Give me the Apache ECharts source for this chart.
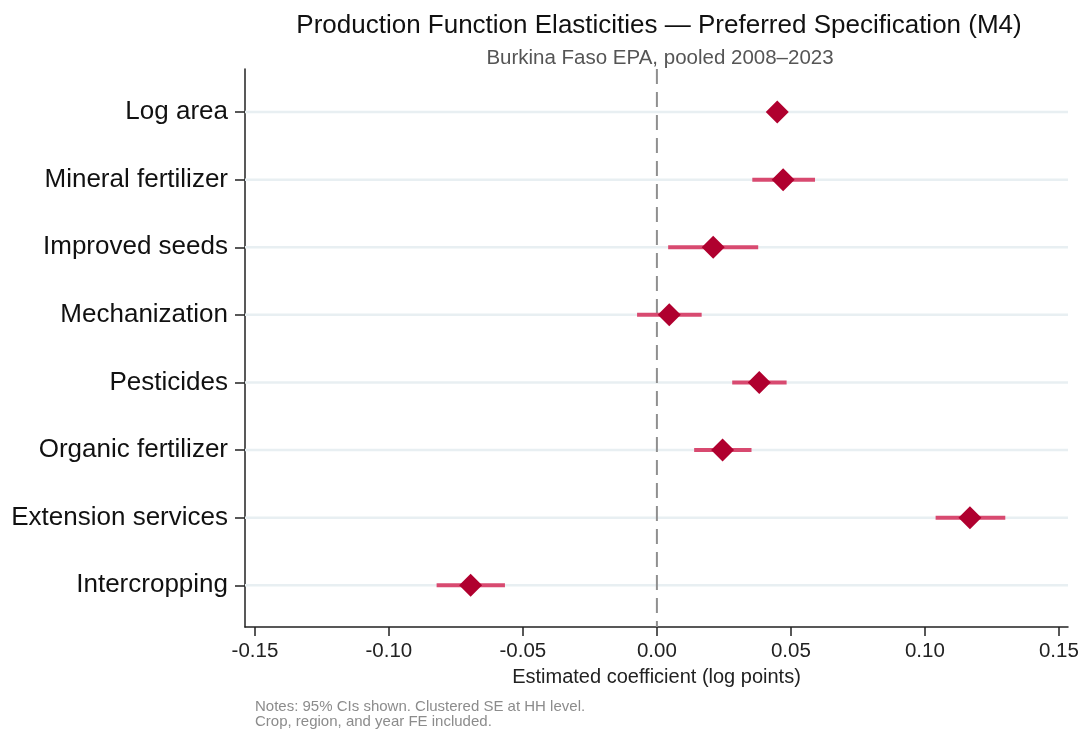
<!DOCTYPE html>
<html>
<head>
<meta charset="utf-8">
<script src="https://cdn.jsdelivr.net/npm/echarts@6/dist/echarts.min.js"></script>
<style>
  html, body { margin: 0; padding: 0; background: #fff; }
  #chart { width: 1084px; height: 729px; }
</style>
</head>
<body>
<div id="chart"></div>
<script>
// coefficient plot data (top row first)
const categories = ["Log area", "Mineral fertilizer", "Improved seeds", "Mechanization",
  "Pesticides", "Organic fertilizer", "Extension services", "Intercropping"];
const estimates = [0.0449, 0.0471, 0.0210, 0.0046, 0.0382, 0.0245, 0.1168, -0.0695];
const ciLow = [0.0425, 0.0356, 0.0042, -0.0074, 0.0281, 0.0139, 0.1040, -0.0822];
const ciHigh = [0.0473, 0.0590, 0.0378, 0.0167, 0.0484, 0.0353, 0.1300, -0.0567];
const xTicks = [-0.15, -0.10, -0.05, 0.00, 0.05, 0.10, 0.15];
const refValue = 0; // dashed reference line

const FONT = "'Liberation Sans', Arial, sans-serif";
const n = categories.length;
// row positions on the value y axis, top row = n
const rowPos = categories.map((c, i) => n - i);

var chart = echarts.init(document.getElementById("chart"));
var option = {
  backgroundColor: "#fff",
  textStyle: { fontFamily: FONT },
  title: [
    {
      text: "Production Function Elasticities \u2014 Preferred Specification (M4)",
      left: 654,
      top: 8,
      textAlign: "center",
      textStyle: { fontFamily: FONT, fontSize: 26, fontWeight: "normal", color: "#111" }
    },
    {
      text: "Burkina Faso EPA, pooled 2008\u20132023",
      left: 655,
      top: 43,
      textAlign: "center",
      textStyle: { fontFamily: FONT, fontSize: 20.5, fontWeight: "normal", color: "#555" }
    },
    {
      text: "Notes: 95% CIs shown. Clustered SE at HH level.\nCrop, region, and year FE included.",
      left: 250,
      top: 694,
      textStyle: { fontFamily: FONT, fontSize: 15, fontWeight: "normal", color: "#8c8c8c", lineHeight: 15.5 }
    }
  ],
  grid: {
    left: 245,
    right: 16,
    top: 69,
    bottom: 102,
    containLabel: false
  },
  xAxis: {
    type: "value",
    min: -0.1537,
    max: 0.1534,
    name: "Estimated coefficient (log points)",
    nameLocation: "middle",
    nameGap: 40,
    nameTextStyle: { fontFamily: FONT, fontSize: 20, color: "#222" },
    axisLine: { show: true, onZero: false, lineStyle: { color: "#222", width: 1.5 } },
    axisTick: { show: true, length: 9, customValues: xTicks, lineStyle: { color: "#222", width: 1.5 } },
    axisLabel: {
      customValues: xTicks,
      margin: 14,
      fontFamily: FONT,
      fontSize: 20.5,
      color: "#222",
      formatter: function(v) {
        return v.toFixed(2);
      }
    },
    splitLine: { show: false }
  },
  yAxis: {
    type: "value",
    min: 0.383,
    max: 8.637,
    axisLine: { show: true, onZero: false, lineStyle: { color: "#222", width: 1.5 } },
    axisTick: { show: true, length: 10, customValues: rowPos, lineStyle: { color: "#222", width: 1.5 } },
    axisLabel: {
      customValues: rowPos,
      margin: 17,
      fontFamily: FONT,
      fontSize: 26,
      color: "#111",
      formatter: function(v) {
        return categories[n - Math.round(v)];
      }
    },
    splitLine: { show: false }
  },
  series: [
    {
      // row guide line, zero reference line and confidence interval
      type: "custom",
      z: 2,
      data: categories.map((c, i) => [ciLow[i], ciHigh[i], rowPos[i]]),
      encode: { x: [0, 1], y: 2 },
      renderItem: function(params, api) {
        var cs = params.coordSys;
        var p1 = api.coord([api.value(0), api.value(2)]);
        var p2 = api.coord([api.value(1), api.value(2)]);
        var children = [
          {
            type: "line",
            z2: 1,
            shape: { x1: cs.x, y1: p1[1], x2: cs.x + cs.width, y2: p1[1] },
            style: { stroke: "#e8eff2", lineWidth: 2.5 }
          }
        ];
        if (params.dataIndex === 0) {
          var z = api.coord([refValue, 0])[0];
          children.push({
            type: "line",
            z2: 2,
            shape: { x1: z, y1: cs.y, x2: z, y2: cs.y + cs.height },
            style: { stroke: "#8f8f8f", lineWidth: 2, lineDash: [15, 8] }
          });
        }
        children.push({
          type: "line",
          z2: 3,
          shape: { x1: p1[0], y1: p1[1], x2: p2[0], y2: p2[1] },
          style: { stroke: "#d84a70", lineWidth: 4 }
        });
        return { type: "group", children: children };
      }
    },
    {
      // point estimates
      type: "scatter",
      z: 3,
      symbol: "diamond",
      symbolSize: [23, 23],
      itemStyle: { color: "#b0002f", opacity: 1 },
      data: categories.map((c, i) => [estimates[i], rowPos[i]])
    }
  ]
};
chart.setOption(option);
window.addEventListener("resize", () => {
  chart.resize();
});
</script>
</body>
</html>
